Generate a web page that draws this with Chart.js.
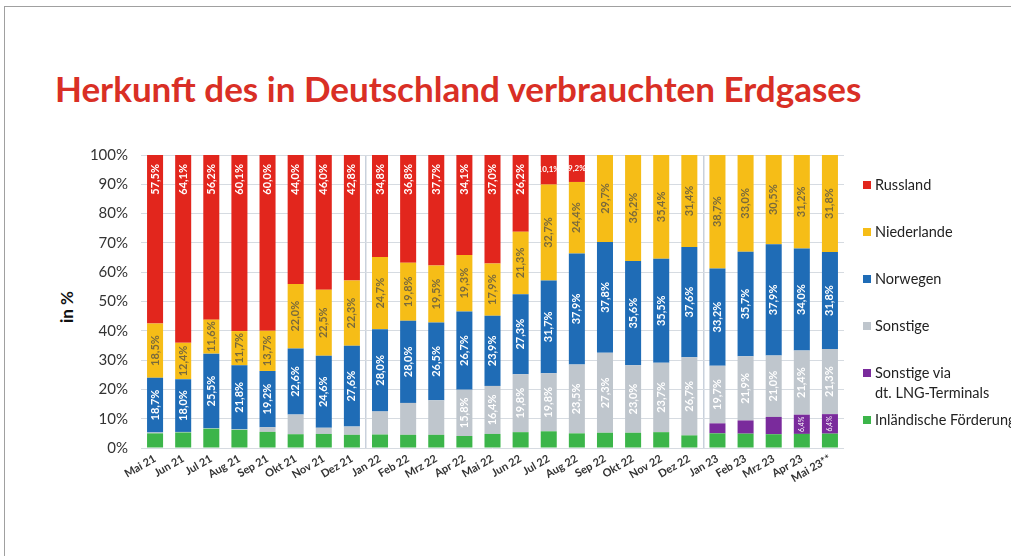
<!DOCTYPE html>
<html><head><meta charset="utf-8">
<script src="https://cdn.jsdelivr.net/npm/chart.js@4.4.0/dist/chart.umd.min.js"></script>
<style>
html,body{margin:0;padding:0;width:1011px;height:556px;overflow:hidden;background:#fff;font-family:Lato,sans-serif}
#frame{position:absolute;left:4px;top:6px;width:1100px;height:600px;border-left:1.5px solid #a0a0a0;border-top:1.5px solid #a0a0a0}
#title{position:absolute;left:55px;top:67px;font-weight:bold;font-size:35px;font-family:Lato;color:#d92f25;white-space:nowrap}
#ytitle{position:absolute;left:66px;top:307px;transform:translate(-50%,-50%) rotate(-90deg);font:bold 17px Lato;color:#111;white-space:nowrap}
#wrap{position:absolute;left:0;top:0;width:1011px;height:556px}
#legend{position:absolute;left:863px;top:175px;font:14.5px Lato;color:#222;white-space:nowrap}
#legend .it{position:relative;padding-left:12px;line-height:20px;margin-bottom:27px}
#legend .it.two{line-height:20px;margin-bottom:7px}
#legend .sw{position:absolute;left:0;top:6px;width:8px;height:8px}
</style></head>
<body>
<div id="frame"></div>
<div id="title">Herkunft des in Deutschland verbrauchten Erdgases</div>
<div id="ytitle">in %</div>
<div id="wrap"><canvas id="c"></canvas></div>
<div id="legend"></div>
<script>
const categories = ['Mai 21','Jun 21','Jul 21','Aug 21','Sep 21','Okt 21','Nov 21','Dez 21','Jan 22','Feb 22','Mrz 22','Apr 22','Mai 22','Jun 22','Jul 22','Aug 22','Sep 22','Okt 22','Nov 22','Dez 22','Jan 23','Feb 23','Mrz 23','Apr 23','Mai 23**'];
const russland    = [57.5,64.1,56.2,60.1,60.0,44.0,46.0,42.8,34.8,36.8,37.7,34.1,37.0,26.2,10.1,9.2,0,0,0,0,0,0,0,0,0];
const niederlande = [18.5,12.4,11.6,11.7,13.7,22.0,22.5,22.3,24.7,19.8,19.5,19.3,17.9,21.3,32.7,24.4,29.7,36.2,35.4,31.4,38.7,33.0,30.5,31.2,31.8];
const norwegen    = [18.7,18.0,25.5,21.8,19.2,22.6,24.6,27.6,28.0,28.0,26.5,26.7,23.9,27.3,31.7,37.9,37.8,35.6,35.5,37.6,33.2,35.7,37.9,34.0,31.8];
const sonstige    = [0.3,0.2,0.1,0.2,1.6,6.7,2.1,2.8,7.9,10.9,11.8,15.8,16.4,19.8,19.8,23.5,27.3,23.0,23.7,26.7,19.7,21.9,21.0,21.4,21.3];
const lng         = [0,0,0,0,0,0,0,0,0,0,0,0,0,0,0,0,0,0,0,0,3.4,4.5,5.9,6.4,6.4];
const inland      = [5.0,5.3,6.6,6.2,5.5,4.7,4.8,4.5,4.6,4.5,4.5,4.1,4.8,5.4,5.7,5.0,5.2,5.2,5.4,4.3,5.0,4.9,4.7,4.7,4.7];
const yTicks = [0,10,20,30,40,50,60,70,80,90,100];

const seriesDefs = [
  {key:'inland', label:'Inländische Förderung', values:inland, color:'#3cb54a', text:null, minLabel:Infinity},
  {key:'lng', label:'Sonstige via|dt. LNG-Terminals', values:lng, color:'#7a2b9c', text:'#ffffff', minLabel:6},
  {key:'sonstige', label:'Sonstige', values:sonstige, color:'#bfc6cd', text:'#ffffff', minLabel:15},
  {key:'norwegen', label:'Norwegen', values:norwegen, color:'#1f6cb6', text:'#ffffff', minLabel:0.01},
  {key:'niederlande', label:'Niederlande', values:niederlande, color:'#f6bd17', text:'#7a6a3c', minLabel:0.01},
  {key:'russland', label:'Russland', values:russland, color:'#e2261d', text:'#ffffff', minLabel:0.01}
];

// 100 % stacked: each column is shown as share of its total
const totals = categories.map((_,i)=>seriesDefs.reduce((s,d)=>s+d.values[i],0));

const datasets = seriesDefs.map(d=>({
  label:d.label.replace('|',' '),
  data:d.values.map((v,i)=>v/totals[i]*100),
  raw:d.values,
  backgroundColor:d.color,
  borderWidth:0,
  barPercentage:0.57,
  categoryPercentage:1.0,
  def:d
}));

// HTML legend (top entry = top of stack)
const leg = document.getElementById('legend');
seriesDefs.slice().reverse().forEach(d=>{
  const it = document.createElement('div');
  it.className = 'it' + (d.label.includes('|') ? ' two' : '');
  const sw = document.createElement('span'); sw.className='sw'; sw.style.background=d.color;
  it.appendChild(sw);
  d.label.split('|').forEach((t,k)=>{
    if(k>0) it.appendChild(document.createElement('br'));
    it.appendChild(document.createTextNode(t));
  });
  leg.appendChild(it);
});

const fmt = v => v.toFixed(1).replace('.',',') + '%';

const segLabels = {
  id:'segLabels',
  afterDatasetsDraw(chart){
    const ctx = chart.ctx;
    chart.data.datasets.forEach((ds,di)=>{
      const d = ds.def;
      if(!d.text) return;
      const meta = chart.getDatasetMeta(di);
      meta.data.forEach((el,i)=>{
        const raw = ds.raw[i];
        if(!(raw >= d.minLabel)) return;
        const top = Math.min(el.y, el.base), bot = Math.max(el.y, el.base);
        const h = bot - top;
        ctx.save();
        ctx.fillStyle = d.text;
        if(d.key==='russland' && h < 45){
          ctx.font = 'bold 8px Lato';
          ctx.textAlign='center'; ctx.textBaseline='middle';
          ctx.fillText(fmt(raw), el.x, top + h/2);
        } else if(d.key==='lng'){
          ctx.translate(el.x, top + h/2);
          ctx.rotate(-Math.PI/2);
          ctx.font = '7px Lato';
          ctx.textAlign='center'; ctx.textBaseline='middle';
          ctx.fillText(fmt(raw), 0, 0);
        } else if(d.key==='russland'){
          ctx.translate(el.x, top + 9);
          ctx.rotate(-Math.PI/2);
          ctx.font = 'bold 11px Lato';
          ctx.textAlign='right'; ctx.textBaseline='middle';
          ctx.fillText(fmt(raw), 0, 0);
        } else {
          ctx.translate(el.x, top + h/2);
          ctx.rotate(-Math.PI/2);
          ctx.font = 'bold 11px Lato';
          ctx.textAlign='center'; ctx.textBaseline='middle';
          ctx.fillText(fmt(raw), 0, 0);
        }
        ctx.restore();
      });
    });
  }
};

const yearStarts = categories.map((c,i)=>i>0 && c.startsWith('Jan') ? i : -1).filter(i=>i>0);

new Chart(document.getElementById('c'), {
  type:'bar',
  data:{labels:categories, datasets},
  options:{
    responsive:true, maintainAspectRatio:false, animation:false,
    layout:{padding:{left:0, top:155, right:167, bottom:48}},
    plugins:{legend:{display:false}, tooltip:{enabled:false}, title:{display:false}},
    scales:{
      x:{
        stacked:true,
        afterFit:s=>{s.height=60;},
        grid:{offset:true, drawTicks:false, lineWidth:1.5,
          color:c=>yearStarts.includes(c.index) ? '#c9d1dc' : 'rgba(0,0,0,0)'},
        border:{display:false},
        ticks:{autoSkip:false, maxRotation:30, minRotation:30, padding:4,
          font:{family:'Lato', size:11, weight:'bold'}, color:'#333'}
      },
      y:{
        stacked:true, min:0, max:100,
        afterFit:s=>{s.width=141;},
        afterBuildTicks:s=>{s.ticks = yTicks.map(v=>({value:v}));},
        grid:{drawTicks:false, color:'#d6dbe1', lineWidth:1},
        border:{display:false},
        ticks:{padding:13, callback:v=>v+'%', font:{family:'Lato', size:15}, color:'#333'}
      }
    }
  },
  plugins:[segLabels]
});
</script>
</body></html>
